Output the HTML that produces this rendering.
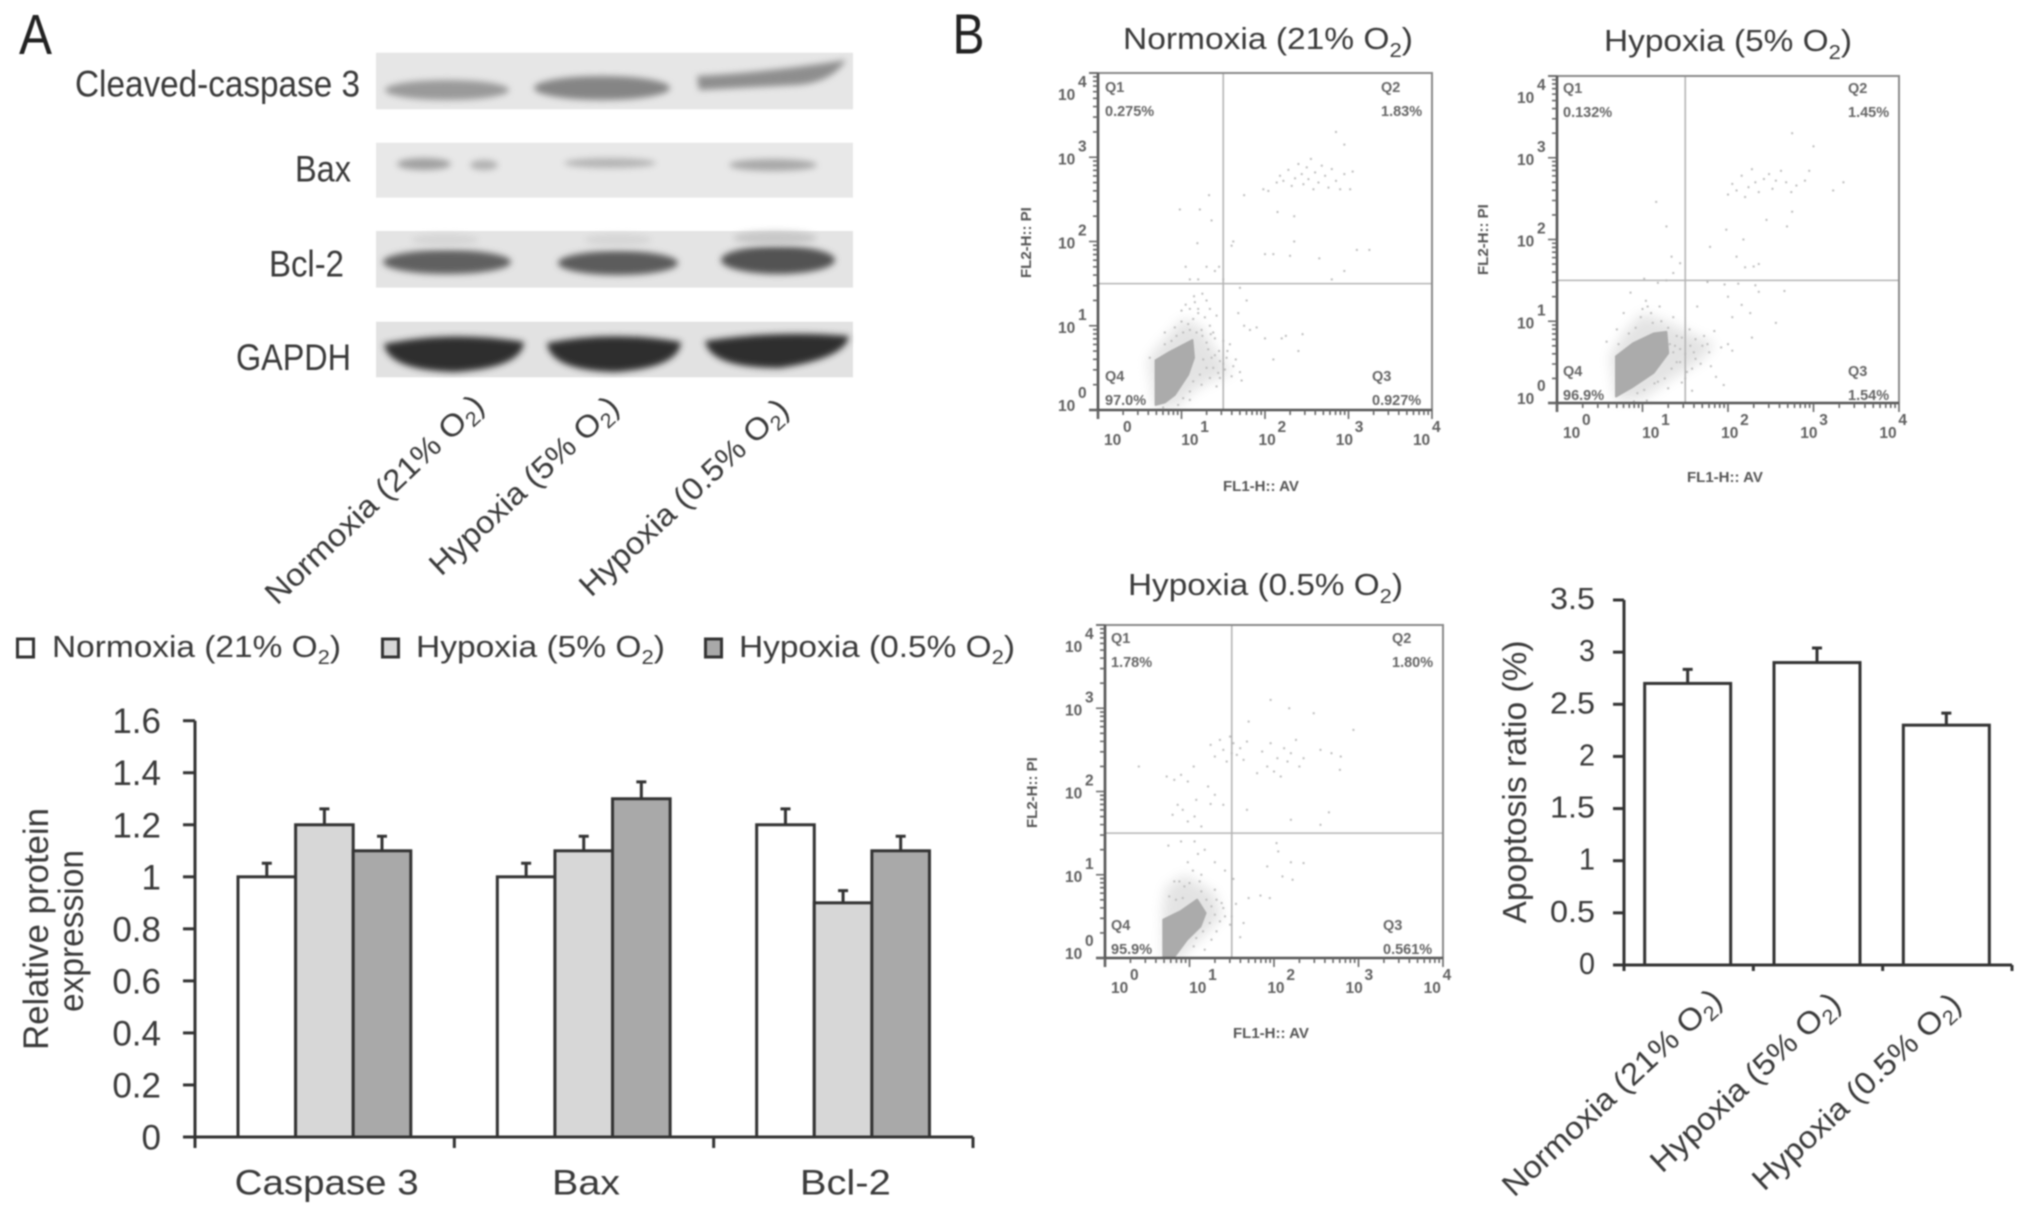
<!DOCTYPE html>
<html lang="en">
<head>
<meta charset="utf-8">
<title>Western blot and apoptosis under normoxia and hypoxia</title>
<style>
html,body{margin:0;padding:0;background:#fff;width:2031px;height:1217px;overflow:hidden}
svg{display:block;filter:blur(0.7px)}
text{font-family:"Liberation Sans",sans-serif;fill:#3a3a3a}
.sub{font-size:66%}
</style>
</head>
<body>
<svg id="figure" xmlns="http://www.w3.org/2000/svg" width="2031" height="1217" viewBox="0 0 2031 1217">
<defs>
<filter id="b2" x="-30%" y="-80%" width="160%" height="260%"><feGaussianBlur stdDeviation="3.2"/></filter>
<filter id="b4" x="-30%" y="-100%" width="160%" height="300%"><feGaussianBlur stdDeviation="4.5"/></filter>
<filter id="b6" x="-40%" y="-40%" width="180%" height="180%"><feGaussianBlur stdDeviation="6"/></filter>
</defs>
<rect width="2031" height="1217" fill="#fff"/>

<text x="19" y="54" font-size="57" textLength="33" lengthAdjust="spacingAndGlyphs" style="fill:#222">A</text>
<text x="952.5" y="53.5" font-size="57" textLength="32" lengthAdjust="spacingAndGlyphs" style="fill:#222">B</text>

<g>
  <g>
    <rect x="376" y="52.7" width="477" height="56.6" fill="#e6e6e6"/>
    <ellipse cx="447" cy="90" rx="62" ry="10" fill="#9a9a9a" filter="url(#b2)"/>
    <ellipse cx="602" cy="88" rx="68" ry="12" fill="#858585" filter="url(#b2)"/>
    <path d="M697 76 Q770 72 846 60 Q832 82 798 85 L699 90 Z" fill="#8e8e8e" filter="url(#b2)"/>
  </g>
  <g>
    <rect x="376" y="142.7" width="477" height="55" fill="#e8e8e8"/>
    <ellipse cx="424" cy="164" rx="27" ry="6" fill="#a0a0a0" filter="url(#b2)"/>
    <ellipse cx="484" cy="165" rx="14" ry="5" fill="#b0b0b0" filter="url(#b2)"/>
    <ellipse cx="610" cy="163" rx="46" ry="5" fill="#b4b4b4" filter="url(#b2)"/>
    <ellipse cx="773" cy="165" rx="44" ry="6" fill="#a8a8a8" filter="url(#b2)"/>
  </g>
  <g>
    <rect x="376" y="231" width="477" height="56.6" fill="#e4e4e4"/>
    <ellipse cx="447" cy="262" rx="64" ry="12" fill="#606060" filter="url(#b2)"/>
    <ellipse cx="618" cy="263" rx="60" ry="12" fill="#5c5c5c" filter="url(#b2)"/>
    <ellipse cx="778" cy="260" rx="57" ry="14" fill="#525252" filter="url(#b2)"/>
    <ellipse cx="445" cy="240" rx="34" ry="6" fill="#d6d6d6" filter="url(#b2)"/>
    <ellipse cx="618" cy="240" rx="34" ry="6" fill="#d6d6d6" filter="url(#b2)"/>
    <ellipse cx="775" cy="238" rx="42" ry="7" fill="#c8c8c8" filter="url(#b2)"/>
  </g>
  <g>
    <rect x="376" y="321.7" width="477" height="55.6" fill="#e2e2e2"/>
    <path d="M384 344 Q452 330 524 342 Q522 368 454 372 Q388 370 384 344Z" fill="#2f2f2f" filter="url(#b2)"/>
    <path d="M547 343 Q612 330 681 342 Q679 368 614 372 Q550 370 547 343Z" fill="#2f2f2f" filter="url(#b2)"/>
    <path d="M705 341 Q775 330 849 336 Q846 358 780 368 Q710 368 705 341Z" fill="#2d2d2d" filter="url(#b2)"/>
  </g>
</g>

<text x="75" y="96.7" font-size="37" textLength="285" lengthAdjust="spacingAndGlyphs">Cleaved-caspase 3</text>
<text x="295" y="181.7" font-size="37" textLength="56" lengthAdjust="spacingAndGlyphs">Bax</text>
<text x="269" y="276.7" font-size="37" textLength="75" lengthAdjust="spacingAndGlyphs">Bcl-2</text>
<text x="236" y="370" font-size="37" textLength="115" lengthAdjust="spacingAndGlyphs">GAPDH</text>

<text transform="translate(277,606) rotate(-43.5)" font-size="31" textLength="288" lengthAdjust="spacingAndGlyphs">Normoxia (21% O<tspan class="sub" dy="6">2</tspan><tspan dy="-6">)</tspan></text>
<text transform="translate(441,577) rotate(-43)" font-size="31" textLength="246" lengthAdjust="spacingAndGlyphs">Hypoxia (5% O<tspan class="sub" dy="6">2</tspan><tspan dy="-6">)</tspan></text>
<text transform="translate(591,598) rotate(-43)" font-size="31" textLength="273" lengthAdjust="spacingAndGlyphs">Hypoxia (0.5% O<tspan class="sub" dy="6">2</tspan><tspan dy="-6">)</tspan></text>

<g>
  <rect x="17.5" y="639" width="16" height="18" fill="#fff" stroke="#333" stroke-width="3"/>
  <text x="52" y="657" font-size="31" textLength="289" lengthAdjust="spacingAndGlyphs">Normoxia (21% O<tspan class="sub" dy="7">2</tspan><tspan dy="-7">)</tspan></text>
  <rect x="382.5" y="639" width="16" height="18" fill="#d7d7d7" stroke="#333" stroke-width="3"/>
  <text x="416" y="657" font-size="31" textLength="249" lengthAdjust="spacingAndGlyphs">Hypoxia (5% O<tspan class="sub" dy="7">2</tspan><tspan dy="-7">)</tspan></text>
  <rect x="705.5" y="639" width="16" height="18" fill="#a9a9a9" stroke="#333" stroke-width="3"/>
  <text x="739" y="657" font-size="31" textLength="276" lengthAdjust="spacingAndGlyphs">Hypoxia (0.5% O<tspan class="sub" dy="7">2</tspan><tspan dy="-7">)</tspan></text>
</g>

<g id="protein-chart"></g>
<text transform="translate(48,1050) rotate(-90)" font-size="35" textLength="242" lengthAdjust="spacingAndGlyphs">Relative protein</text>
<text transform="translate(83,1012) rotate(-90)" font-size="35" textLength="162" lengthAdjust="spacingAndGlyphs">expression</text>

<text x="1123" y="49" font-size="31" textLength="290" lengthAdjust="spacingAndGlyphs">Normoxia (21% O<tspan class="sub" dy="8">2</tspan><tspan dy="-8">)</tspan></text>
<text x="1604" y="51" font-size="31" textLength="248" lengthAdjust="spacingAndGlyphs">Hypoxia (5% O<tspan class="sub" dy="8">2</tspan><tspan dy="-8">)</tspan></text>
<text x="1128" y="595" font-size="31" textLength="275" lengthAdjust="spacingAndGlyphs">Hypoxia (0.5% O<tspan class="sub" dy="8">2</tspan><tspan dy="-8">)</tspan></text>

<g id="flow-normoxia"></g>
<g id="flow-hypoxia-5"></g>
<g id="flow-hypoxia-05"></g>

<g id="apoptosis-chart"></g>
<text transform="translate(1526,923.5) rotate(-90)" font-size="33" textLength="283" lengthAdjust="spacingAndGlyphs">Apoptosis ratio (%)</text>
<text transform="translate(1514,1198) rotate(-43)" font-size="31" textLength="287" lengthAdjust="spacingAndGlyphs">Normoxia (21% O<tspan class="sub" dy="6">2</tspan><tspan dy="-6">)</tspan></text>
<text transform="translate(1662,1174) rotate(-43)" font-size="31" textLength="247" lengthAdjust="spacingAndGlyphs">Hypoxia (5% O<tspan class="sub" dy="6">2</tspan><tspan dy="-6">)</tspan></text>
<text transform="translate(1764,1192) rotate(-43)" font-size="31" textLength="272" lengthAdjust="spacingAndGlyphs">Hypoxia (0.5% O<tspan class="sub" dy="6">2</tspan><tspan dy="-6">)</tspan></text>
</svg>

<script>
// ---- protein expression chart data ----
const proteinCategories = ['Caspase 3', 'Bax', 'Bcl-2'];
const proteinNormoxia = [1.0, 1.0, 1.2];
const proteinHypoxia5 = [1.2, 1.1, 0.9];
const proteinHypoxia05 = [1.1, 1.3, 1.1];
const proteinErrNormoxia = [0.052, 0.052, 0.061];
const proteinErrHypoxia5 = [0.061, 0.056, 0.047];
const proteinErrHypoxia05 = [0.056, 0.065, 0.056];
const proteinTicks = ['0', '0.2', '0.4', '0.6', '0.8', '1', '1.2', '1.4', '1.6'];

// ---- apoptosis chart data ----
const apoptosisCategories = ['Normoxia', 'Hypoxia 5%', 'Hypoxia 0.5%'];
const apoptosisValues = [2.7, 2.9, 2.3];
const apoptosisErrors = [0.135, 0.14, 0.115];
const apoptosisTicks = ['0', '0.5', '1', '1.5', '2', '2.5', '3', '3.5'];

// ---- flow cytometry data, log10 units ----
const flowDecades = [0, 1, 2, 3, 4];
const gateLogX = 1.5;
const gateLogY = 1.5;

const normoxiaQuadrants = ['0.275%', '1.83%', '0.927%', '97.0%'];
const normoxiaCore = [[0.69,0.06],[0.69,0.59],[0.86,0.69],[1.13,0.83],[1.15,0.62],[1.08,0.42],[0.92,0.18],[0.80,0.09]];
const normoxiaHalo = [[0.69,0.02],[0.60,0.60],[0.76,0.80],[1.02,1.08],[1.24,0.98],[1.38,0.75],[1.60,0.44],[1.38,0.36],[1.16,0.24],[0.94,0.04]];
const normoxiaEvents = [[2.14,2.70],[2.18,2.78],[2.22,2.72],[2.28,2.85],[2.32,2.66],[2.36,2.75],[2.40,2.92],[2.44,2.80],[2.46,2.68],[2.50,2.88],[2.52,2.74],[2.55,2.98],[2.58,2.62],[2.60,2.82],[2.64,2.70],[2.68,2.90],[2.72,2.78],[2.76,2.64],[2.80,2.86],[2.85,2.72],[2.90,2.62],[2.95,2.80],[3.02,2.62],[3.05,2.83],[2.04,2.60],[1.98,2.62],[2.95,3.15],[2.85,3.30],[0.98,2.38],[1.22,2.38],[1.33,2.55],[1.36,2.25],[1.19,1.98],[1.60,1.95],[1.62,2.00],[1.75,2.55],[2.15,2.35],[2.35,2.30],[2.35,2.00],[2.00,1.85],[2.10,1.85],[2.30,1.83],[2.65,1.80],[2.95,1.65],[3.25,1.90],[3.10,1.90],[2.80,1.55],[1.30,1.70],[1.40,1.65],[1.45,1.70],[1.50,1.55],[1.05,1.70],[1.10,1.55],[1.20,1.55],[1.25,1.38],[1.30,1.30],[1.15,1.35],[1.10,1.20],[1.05,1.25],[1.20,1.15],[1.70,1.45],[1.78,1.30],[1.68,1.15],[1.75,1.00],[1.82,0.95],[1.90,0.98],[2.00,0.85],[2.20,0.85],[2.25,0.88],[2.45,0.90],[1.55,0.70],[1.65,0.60],[1.70,0.45],[1.60,0.40],[1.72,0.35],[1.50,0.55],[1.45,0.70],[1.40,0.85],[1.35,0.90],[1.30,0.80],[2.40,0.70],[2.10,0.60],[1.00,1.05],[0.92,0.98],[1.08,1.02],[1.14,1.08],[1.24,0.95],[0.80,0.92],[0.62,0.62],[1.52,0.48],[1.46,0.38],[1.38,0.50],[1.42,0.28],[0.78,0.03],[0.96,0.06],[1.10,0.12],[1.20,1.20],[1.28,1.10],[1.34,1.00],[1.38,0.92],[1.25,0.88],[1.32,0.72],[1.40,0.65],[1.46,0.58],[1.54,0.62],[1.26,0.60],[1.30,0.50],[1.22,0.42],[1.34,0.38],[1.24,0.30],[1.14,0.34],[1.10,0.22],[1.02,0.14],[1.18,0.92],[1.10,0.95],[1.02,0.92],[0.94,0.88],[0.88,0.82],[0.80,0.78],[1.16,1.28],[1.00,1.18],[1.34,1.20],[1.42,1.12],[1.50,0.82],[1.58,0.78],[1.62,0.52],[1.36,0.62],[1.44,0.44]];

const hypoxia5Quadrants = ['0.132%', '1.45%', '1.54%', '96.9%'];
const hypoxia5Core = [[0.69,0.08],[0.69,0.57],[0.89,0.73],[1.13,0.85],[1.28,0.87],[1.30,0.61],[1.13,0.37],[0.89,0.20]];
const hypoxia5Halo = [[0.69,0.02],[0.62,0.58],[0.78,0.85],[1.00,1.10],[1.26,1.00],[1.50,0.88],[1.85,0.72],[1.66,0.50],[1.34,0.30],[1.00,0.05]];
const hypoxia5Events = [[2.00,2.55],[2.05,2.68],[2.10,2.60],[2.16,2.78],[2.20,2.52],[2.24,2.64],[2.28,2.86],[2.32,2.70],[2.36,2.58],[2.42,2.74],[2.48,2.80],[2.52,2.62],[2.56,2.72],[2.62,2.84],[2.68,2.70],[2.74,2.58],[2.80,2.66],[2.90,2.72],[2.95,2.84],[3.23,2.60],[3.35,2.70],[2.75,3.30],[3.00,3.14],[1.98,2.12],[2.18,2.00],[1.79,1.91],[2.10,1.79],[2.30,1.67],[1.16,2.46],[1.28,2.16],[2.75,2.34],[2.45,2.24],[2.69,2.16],[1.34,1.79],[1.44,1.71],[1.36,1.59],[2.20,1.66],[2.36,1.70],[1.76,1.48],[1.96,1.45],[2.12,1.46],[2.32,1.44],[1.02,1.52],[1.18,1.47],[1.28,1.50],[0.86,1.35],[1.04,1.25],[1.20,1.18],[1.10,1.10],[0.98,1.05],[0.78,1.10],[1.36,1.05],[1.64,1.18],[2.00,1.30],[2.16,1.20],[2.36,1.36],[2.66,1.37],[2.26,1.10],[2.05,1.05],[2.56,0.98],[1.62,0.78],[1.72,0.82],[1.84,0.88],[1.92,0.68],[1.78,0.62],[1.60,0.62],[1.68,0.48],[2.00,0.72],[2.05,0.64],[2.28,0.80],[1.86,0.32],[1.95,0.22],[1.46,0.25],[1.52,0.38],[1.44,0.50],[1.50,0.60],[1.46,0.80],[1.38,0.70],[1.55,0.90],[0.58,0.75],[0.70,0.90],[0.90,0.02],[1.05,0.03],[1.32,0.72],[1.36,0.62],[1.40,0.50],[1.34,0.42],[1.26,0.30],[1.18,0.26],[1.30,0.92],[1.22,1.00],[1.12,0.98],[1.40,0.82],[1.44,0.66],[1.56,0.70],[1.62,0.54],[1.70,0.70],[1.76,0.72],[1.58,0.42],[1.50,0.30],[1.00,1.15],[0.92,0.92],[0.84,0.85],[1.06,1.18],[0.72,0.72],[1.14,0.24],[1.02,0.16],[0.94,0.12],[1.30,0.18],[1.58,0.15],[1.80,0.45]];

const hypoxia05Quadrants = ['1.78%', '1.80%', '0.561%', '95.9%'];
const hypoxia05Core = [[0.69,0.00],[0.69,0.46],[0.89,0.56],[1.09,0.70],[1.19,0.54],[1.13,0.38],[0.97,0.22],[0.81,0.00]];
const hypoxia05Halo = [[0.69,0.00],[0.68,0.55],[0.72,0.85],[0.95,1.00],[1.10,0.90],[1.30,0.78],[1.38,0.50],[1.20,0.30],[1.00,0.12],[0.90,0.00]];
const hypoxia05Events = [[1.25,2.56],[1.30,2.42],[1.36,2.62],[1.40,2.50],[1.44,2.36],[1.48,2.66],[1.52,2.58],[1.56,2.44],[1.60,2.52],[1.64,2.38],[1.50,2.46],[1.68,2.60],[1.80,2.22],[1.86,2.48],[1.92,2.30],[1.96,2.58],[2.00,2.24],[2.04,2.40],[2.08,2.18],[2.12,2.52],[2.16,2.36],[2.20,2.46],[2.26,2.62],[2.30,2.30],[2.35,2.40],[2.55,2.50],[2.68,2.46],[2.79,2.42],[2.78,2.26],[2.94,2.74],[2.47,2.94],[1.96,3.10],[2.18,3.00],[1.70,2.84],[0.40,2.30],[0.73,2.18],[0.82,2.14],[0.90,2.20],[0.98,2.12],[1.05,2.30],[0.86,1.84],[0.80,1.72],[0.92,1.78],[0.98,1.64],[1.06,1.70],[1.14,1.58],[1.25,1.85],[1.08,1.90],[1.22,2.06],[1.30,1.96],[1.40,1.84],[1.68,1.78],[2.20,1.66],[2.55,1.60],[2.65,1.75],[2.03,1.38],[2.05,1.28],[2.20,1.15],[2.35,1.14],[2.10,0.98],[2.22,0.94],[1.92,1.10],[0.75,1.35],[0.90,1.40],[1.06,1.40],[1.10,1.25],[1.18,1.30],[0.98,1.15],[1.04,1.05],[0.82,0.92],[1.14,1.00],[1.30,1.15],[1.42,1.05],[1.52,0.95],[1.70,0.72],[1.84,0.75],[1.95,0.72],[1.55,0.65],[1.50,0.50],[1.40,0.60],[1.32,0.70],[1.48,0.40],[1.64,0.42],[1.26,0.22],[1.18,0.10],[1.60,0.25],[1.14,0.80],[1.20,0.70],[1.26,0.62],[1.30,0.52],[1.24,0.42],[1.16,0.32],[1.08,0.24],[1.00,0.90],[0.92,0.72],[0.84,0.70],[0.76,0.74],[1.12,0.92],[1.30,0.82],[1.38,0.66],[1.36,0.44],[1.32,0.32],[0.94,0.86],[1.05,0.14],[1.42,0.50],[0.88,0.92]];

const SVGNS = 'http://www.w3.org/2000/svg';
function make(parent, tag, attrs, text) {
  const n = document.createElementNS(SVGNS, tag);
  for (const k in attrs) n.setAttribute(k, attrs[k]);
  if (text !== undefined) n.textContent = text;
  parent.appendChild(n);
  return n;
}
function slug(s) { return String(s).toLowerCase().replace(/[^a-z0-9]+/g, '-').replace(/(^-|-$)/g, ''); }

// ---- protein chart ----
(function () {
  const g = document.getElementById('protein-chart');
  const axisX = 195, axisEnd = 973, y0 = 1137, yTop = 720.7, yMax = 1.6;
  const groupW = (axisEnd - axisX) / proteinCategories.length;
  const barW = 57.6, firstOffset = 43;
  const y = v => y0 - (v / yMax) * (y0 - yTop);
  const x = (i, j) => axisX + i * groupW + firstOffset + j * barW;
  const series = [
    { name: 'normoxia', vals: proteinNormoxia, errs: proteinErrNormoxia, fill: '#ffffff' },
    { name: 'hypoxia-5', vals: proteinHypoxia5, errs: proteinErrHypoxia5, fill: '#d7d7d7' },
    { name: 'hypoxia-05', vals: proteinHypoxia05, errs: proteinErrHypoxia05, fill: '#a9a9a9' }
  ];
  series.forEach((s, j) => {
    s.vals.forEach((v, i) => {
      const cx = x(i, j) + barW / 2;
      const err = make(g, 'path', { d: `M${cx} ${y(v)}V${y(v + s.errs[i])}M${cx - 5} ${y(v + s.errs[i])}H${cx + 5}`, stroke: '#333', 'stroke-width': 3, fill: 'none' });
      
      
      const bar = make(g, 'rect', { x: x(i, j), y: y(v), width: barW, height: y0 - y(v), fill: s.fill, stroke: '#333', 'stroke-width': 3 });
      
      
    });
  });
  const axisY = make(g, 'line', { x1: axisX, x2: axisX, y1: yTop, y2: y0 + 11, stroke: '#333', 'stroke-width': 3 });
  
  
  const axisH = make(g, 'line', { x1: axisX - 12, x2: axisEnd, y1: y0, y2: y0, stroke: '#333', 'stroke-width': 3 });
  
  
  proteinTicks.forEach(t => {
    const yy = y(parseFloat(t));
    const tick = make(g, 'line', { x1: axisX - 12, x2: axisX, y1: yy, y2: yy, stroke: '#333', 'stroke-width': 3 });
    
    
    const label = make(g, 'text', { x: 161, y: yy + 12.5, 'font-size': 35, 'text-anchor': 'end' }, t);
    
    
  });
  for (let i = 1; i <= proteinCategories.length; i++) {
    const tx = axisX + i * groupW;
    const tick = make(g, 'line', { x1: tx, x2: tx, y1: y0, y2: y0 + 11, stroke: '#333', 'stroke-width': 3 });
    
    
  }
  const catW = [184, 68, 91];
  proteinCategories.forEach((c, i) => {
    const cx = axisX + i * groupW + groupW / 2;
    const label = make(g, 'text', { x: cx - catW[i] / 2 + 2, y: 1194.5, 'font-size': 35, textLength: catW[i], lengthAdjust: 'spacingAndGlyphs' }, c);
    
    
  });
})();

// ---- apoptosis chart ----
(function () {
  const g = document.getElementById('apoptosis-chart');
  const axisX = 1624, axisEnd = 2012, y0 = 965, yTop = 600, yMax = 3.5;
  const groupW = (axisEnd - axisX) / apoptosisCategories.length;
  const barW = 86;
  const y = v => y0 - (v / yMax) * (y0 - yTop);
  apoptosisValues.forEach((v, i) => {
    const cx = axisX + i * groupW + groupW / 2 - 1;
    const top = y(v + apoptosisErrors[i]);
    const err = make(g, 'path', { d: `M${cx} ${y(v)}V${top}M${cx - 5} ${top}H${cx + 5}`, stroke: '#333', 'stroke-width': 3, fill: 'none' });
    
    
    const bar = make(g, 'rect', { x: cx - barW / 2, y: y(v), width: barW, height: y0 - y(v), fill: '#fff', stroke: '#333', 'stroke-width': 3 });
    
    
  });
  const axisY = make(g, 'line', { x1: axisX, x2: axisX, y1: yTop, y2: y0 + 6, stroke: '#333', 'stroke-width': 3 });
  
  
  const axisH = make(g, 'line', { x1: axisX - 11, x2: axisEnd, y1: y0, y2: y0, stroke: '#333', 'stroke-width': 3 });
  
  
  apoptosisTicks.forEach(t => {
    const yy = y(parseFloat(t));
    const tick = make(g, 'line', { x1: axisX - 11, x2: axisX, y1: yy, y2: yy, stroke: '#333', 'stroke-width': 3 });
    
    
    const w = t.length === 3 ? 45 : 16;
    const label = make(g, 'text', { x: 1595 - w, y: yy + 9, 'font-size': 31, textLength: w, lengthAdjust: 'spacingAndGlyphs' }, t);
    
    
  });
  for (let i = 1; i <= apoptosisCategories.length; i++) {
    const tx = axisX + i * groupW;
    const tick = make(g, 'line', { x1: tx, x2: tx, y1: y0, y2: y0 + 6, stroke: '#333', 'stroke-width': 3 });
    
    
  }
})();

// ---- flow plots ----
function drawFlow(id, box, quadrants, core, halo, events, qx, qy, titles) {
  const g = document.getElementById(id);
  const X = v => box.l + (v / 4) * (box.r - box.l);
  const Y = v => box.b - (v / 4) * (box.b - box.t);
  const poly = pts => pts.map(p => X(p[0]).toFixed(1) + ',' + Y(p[1]).toFixed(1)).join(' ');

  const haloEl = make(g, 'polygon', { points: poly(halo), fill: '#d8d8d8', opacity: 0.7, filter: 'url(#b6)' });
  
  
  const coreEl = make(g, 'polygon', { points: poly(core), fill: '#ababab', stroke: '#ababab', 'stroke-width': 2, 'stroke-linejoin': 'round' });
  
  

  events.forEach(e => {
    const dot = make(g, 'rect', { x: X(e[0]) - 1, y: Y(e[1]) - 1, width: 2, height: 2, fill: '#bdbdbd' });
    
    
  });

  const gv = make(g, 'line', { x1: X(gateLogX), x2: X(gateLogX), y1: box.t, y2: box.b, stroke: '#b4b4b4', 'stroke-width': 1.6 });
  
  
  const gh = make(g, 'line', { x1: box.l, x2: box.r, y1: Y(gateLogY), y2: Y(gateLogY), stroke: '#b4b4b4', 'stroke-width': 1.6 });
  
  

  const frame = make(g, 'path', { d: `M${box.l - 9} ${box.t}H${box.r}V${box.b}`, fill: 'none', stroke: '#8a8a8a', 'stroke-width': 2 });
  
  
  const axes = make(g, 'path', { d: `M${box.l} ${box.t}V${box.b + 9}M${box.l - 9} ${box.b}H${box.r}`, fill: 'none', stroke: '#555', 'stroke-width': 2.6 });
  
  

  let ticks = '';
  flowDecades.forEach(d => {
    const len = 8;
    ticks += `M${X(d)} ${box.b}v${len + 1}M${box.l} ${Y(d)}h${-len - 1}`;
    if (d < 4) {
      for (let m = 2; m < 10; m++) {
        const o = d + Math.log10(m);
        ticks += `M${X(o)} ${box.b}v5M${box.l} ${Y(o)}h-5`;
      }
    }
  });
  const tk = make(g, 'path', { d: ticks, stroke: '#666', 'stroke-width': 1.6, fill: 'none' });
  
  

  const yBaseShift = [1, 7, 7, 7, 27];
  const labelStep = (box.r - box.l) / 4 * 0.925;
  const style = { 'font-size': 15.5, style: 'fill:#606060;font-weight:bold' };
  flowDecades.forEach(d => {
    const lx = box.l + 6 + d * labelStep;
    const bx = box.b + 35;
    const a = make(g, 'text', Object.assign({ x: lx, y: bx }, style), '10');
    
    
    const ae = make(g, 'text', Object.assign({ x: lx + 19, y: bx - 13 }, style), String(d));
    
    
    const ly = Y(d) + yBaseShift[d];
    const b = make(g, 'text', Object.assign({ x: box.l - 40, y: ly }, style), '10');
    
    
    const be = make(g, 'text', Object.assign({ x: box.l - 20, y: ly - 13 }, style), String(d));
    
    
  });

  const qStyle = { 'font-size': 14.5, style: 'fill:#666;font-weight:bold' };
  const qNames = ['Q1', 'Q2', 'Q3', 'Q4'];
  const qPos = [[qx[0], qy[0]], [qx[1], qy[0]], [qx[2], qy[1]], [qx[0], qy[1]]];
  qNames.forEach((q, i) => {
    const n = make(g, 'text', Object.assign({ x: qPos[i][0], y: qPos[i][1] }, qStyle), q);
    
    
    const p = make(g, 'text', Object.assign({ x: qPos[i][0], y: qPos[i][1] + 24 }, qStyle), quadrants[i]);
    
    
  });

  const ax = make(g, 'text', { x: titles.xx, y: titles.xy, 'font-size': 15, style: 'fill:#555;font-weight:bold' }, 'FL1-H:: AV');
  
  
  const ay = make(g, 'text', { transform: `translate(${titles.yx},${titles.yy}) rotate(-90)`, 'font-size': 15, style: 'fill:#555;font-weight:bold' }, 'FL2-H:: PI');
  
  
}

drawFlow('flow-normoxia', { l: 1098, r: 1432, t: 73, b: 410 }, normoxiaQuadrants, normoxiaCore, normoxiaHalo, normoxiaEvents, [1105, 1381, 1372], [92, 381], { xx: 1223, xy: 491, yx: 1031, yy: 278 });
drawFlow('flow-hypoxia-5', { l: 1557, r: 1899, t: 76, b: 403 }, hypoxia5Quadrants, hypoxia5Core, hypoxia5Halo, hypoxia5Events, [1563, 1848, 1848], [93, 376], { xx: 1687, xy: 482, yx: 1488, yy: 275 });
drawFlow('flow-hypoxia-05', { l: 1105, r: 1443, t: 625, b: 958 }, hypoxia05Quadrants, hypoxia05Core, hypoxia05Halo, hypoxia05Events, [1111, 1392, 1383], [643, 930], { xx: 1233, xy: 1038, yx: 1037, yy: 828 });
</script>
</body>
</html>
